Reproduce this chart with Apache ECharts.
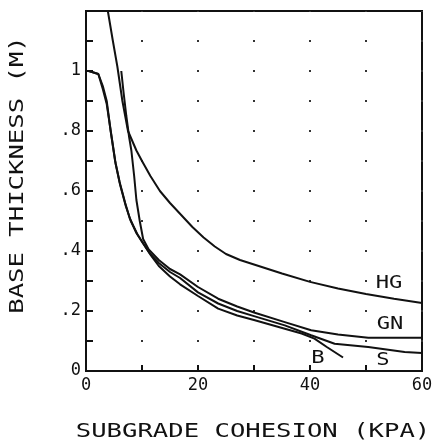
<!DOCTYPE html>
<html>
<head>
<meta charset="utf-8">
<script src="https://cdn.jsdelivr.net/npm/echarts@6/dist/echarts.min.js"></script>
<style>
html,body{margin:0;padding:0;background:#fff;}
#c{width:437px;height:443px;}
</style>
</head>
<body>
<div id="c"></div>
<script>
// ---- data ----
const xTitle = 'SUBGRADE COHESION (KPA)';
const yTitle = 'BASE THICKNESS (M)';
const seriesNames = ['HG', 'GN', 'S', 'B'];
const hgData = [[3.9,1.2],[4.8,1.1],[5.6,1.015],[6.5,0.9],[7.5,0.8],[9,0.735],[10,0.7],[11.5,0.65],[13.2,0.6],[15,0.56],[17,0.52],[19,0.48],[21,0.445],[23,0.415],[25,0.39],[27.5,0.37],[30,0.355],[35,0.325],[40,0.297],[45,0.275],[50,0.257],[55,0.241],[60,0.227]];
const gnData = [[6.3,1.0],[6.7,0.93],[7.2,0.85],[7.7,0.78],[8.1,0.735],[8.6,0.65],[9.0,0.57],[9.6,0.5],[10.2,0.44],[11.2,0.405],[13,0.37],[15,0.34],[16.8,0.322],[20,0.28],[23.6,0.241],[27,0.215],[30,0.195],[35.5,0.163],[40.2,0.136],[45,0.122],[50.4,0.111],[60,0.111]];
const sData = [[0.5,1.0],[2.2,0.99],[3.0,0.95],[3.7,0.9],[4.4,0.8],[5.2,0.7],[6.0,0.63],[7.0,0.56],[7.8,0.51],[9,0.46],[10.2,0.425],[11.4,0.392],[13,0.36],[15,0.33],[16.8,0.31],[20,0.262],[23.6,0.225],[27,0.2],[30,0.183],[35.5,0.152],[40.2,0.119],[44.4,0.091],[50.4,0.08],[56.9,0.063],[60,0.06]];
const bData = [[0.5,1.0],[2.2,0.99],[3.0,0.94],[3.7,0.89],[4.5,0.79],[5.3,0.69],[6.1,0.62],[7.1,0.55],[8,0.5],[9.2,0.455],[10.4,0.42],[11.6,0.385],[13,0.35],[15,0.315],[16.8,0.289],[20,0.25],[23.6,0.208],[27,0.185],[30,0.17],[35.5,0.141],[38.5,0.125],[40.8,0.108],[43,0.08],[45.9,0.045]];
const labelX = [54.1, 54.3, 53.0, 41.4];
const labelY = [0.292, 0.156, 0.036, 0.042];
const xMin = 0, xMax = 60, xStep = 10;
const yMin = 0, yMax = 1.2, yStep = 0.1;

const chart = echarts.init(document.getElementById('c'), null, {renderer:'canvas'});
const mono = '"DejaVu Sans Mono", monospace';
const lineStyle = {color:'#111', width:2};
const allData = [hgData, gnData, sData, bData];

chart.setOption({
  animation:false,
  backgroundColor:'#fff',
  grid:{left:86, right:15, top:11, bottom:72, show:true, borderColor:'#111', borderWidth:2},
  xAxis:{
    type:'value', min:xMin, max:xMax, interval:xStep,
    axisLine:{show:true, lineStyle:{color:'#111', width:2}},
    axisTick:{show:true, inside:true, length:6, lineStyle:{color:'#111', width:2}},
    axisLabel:{color:'#111', fontFamily:mono, fontSize:17, margin:6,
      formatter:v => (Math.round(v) % 20 === 0 ? String(Math.round(v)) : '')},
    splitLine:{show:true, lineStyle:{color:'#333', width:2, type:[2,28], dashOffset:1}}
  },
  yAxis:{
    type:'value', min:yMin, max:yMax, interval:yStep,
    axisLine:{show:true, lineStyle:{color:'#111', width:2}},
    axisTick:{show:true, inside:true, length:7, lineStyle:{color:'#111', width:2}},
    axisLabel:{color:'#111', fontFamily:mono, fontSize:17, margin:5,
      formatter:v => {
        const n = Math.round(v*10);
        if (n % 2 !== 0 || n > 10) return '';
        if (n === 0) return '0';
        if (n === 10) return '1';
        return '.' + (n);
      }},
    splitLine:{show:false}
  },
  series: allData.map((d,i) => ({
    name:seriesNames[i], type:'line', data:d, showSymbol:false, symbol:'none',
    lineStyle:lineStyle, smooth:false, z:3
  }))
});

const graphics = [
  {type:'text', x:253, y:432, scaleX:1.28,
   style:{text:xTitle, font:'20px '+mono, fill:'#111', textAlign:'center', textVerticalAlign:'middle'}},
  {type:'text', x:17.5, y:175, rotation:Math.PI/2, scaleX:1.28,
   style:{text:yTitle, font:'20px '+mono, fill:'#111', textAlign:'center', textVerticalAlign:'middle'}}
];
seriesNames.forEach((name,i) => {
  const p = chart.convertToPixel({gridIndex:0}, [labelX[i], labelY[i]]);
  graphics.push({type:'text', x:p[0], y:p[1], scaleX:1.3,
    style:{text:name, font:'17px '+mono, fill:'#111', textAlign:'center', textVerticalAlign:'middle',
      backgroundColor:'#fff'}, z:10});
});
chart.setOption({graphic:graphics});
</script>
</body>
</html>
